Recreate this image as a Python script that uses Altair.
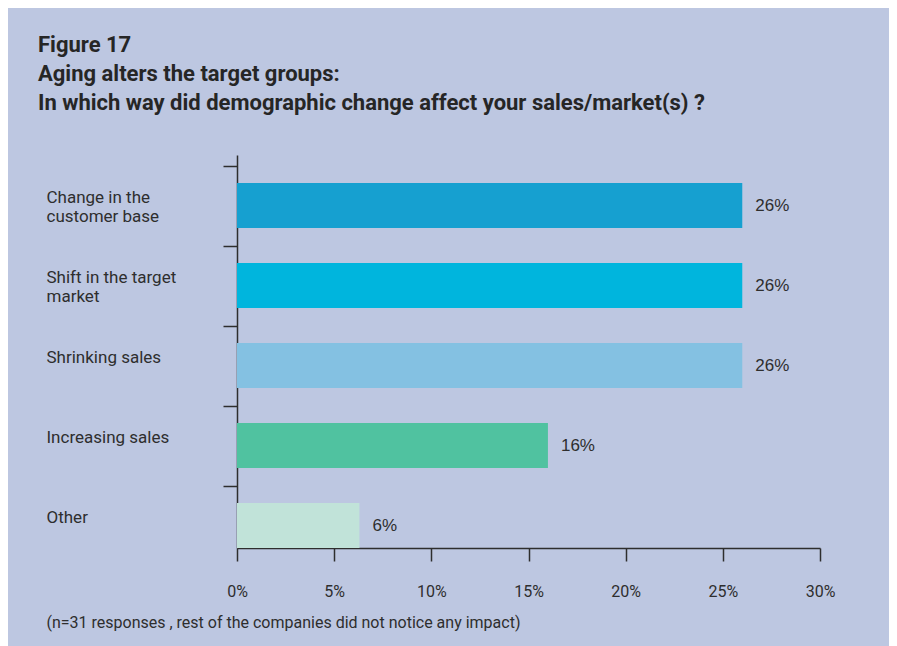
import altair as alt
import pandas as pd

# ---- data ----
categories = [
    "Change in the|customer base",
    "Shift in the target|market",
    "Shrinking sales|",
    "Increasing sales|",
    "Other|",
]
values = [26, 26, 26, 16, 6.3]
value_labels = ["26%", "26%", "26%", "16%", "6%"]
bar_colors = ["#16a0d0", "#00b5dd", "#84c1e2", "#50c2a0", "#c1e3d9"]
x_ticks = [0, 5, 10, 15, 20, 25, 30]

title_lines = [
    "Figure 17",
    "Aging alters the target groups:",
    "In which way did demographic change affect your sales/market(s) ?",
]
footnote = "(n=31 responses , rest of the companies did not notice any impact)"

df = pd.DataFrame({"category": categories, "value": values, "label": value_labels})

BG = "#bdc7e1"
INK = "#2e2e2e"
FONT = "Roboto"

y_enc = alt.Y(
    "category:N",
    sort=categories,
    scale=alt.Scale(paddingInner=0.4375, paddingOuter=0.175, align=1),
    axis=alt.Axis(
        title=None,
        domainColor=INK,
        domainWidth=1.5,
        tickColor=INK,
        tickWidth=1.5,
        tickSize=14,
        tickOffset=-40,
        labelOffset=32,
        labelAlign="left",
        labelBaseline="middle",
        labelPadding=177,
        labelLimit=300,
        labelFont=FONT,
        labelFontSize=17,
        labelColor=INK,
        labelLineHeight=19,
        labelExpr="split(datum.label, '|')",
    ),
)

x_enc = alt.X(
    "value:Q",
    scale=alt.Scale(domain=[0, 30], nice=False),
    axis=alt.Axis(
        values=x_ticks,
        labelExpr="datum.value + '%'",
        domainColor=INK,
        domainWidth=1.5,
        tickColor=INK,
        tickWidth=1.5,
        tickSize=13,
        grid=False,
        labelFont=FONT,
        labelFontSize=16,
        labelColor=INK,
        labelPadding=22,
        labelFlush=False,
        title=footnote,
        titleFont=FONT,
        titleFontSize=16,
        titleFontWeight="normal",
        titleColor=INK,
        titleAnchor="start",
        titleAlign="left",
        titleBaseline="middle",
        titleX=-191,
        titleY=74,
    ),
)

bars = alt.Chart(df).mark_bar().encode(
    y=y_enc,
    x=x_enc,
    color=alt.Color(
        "category:N",
        scale=alt.Scale(domain=categories, range=bar_colors),
        legend=None,
    ),
)

texts = alt.Chart(df).mark_text(
    align="left", baseline="middle", dx=13, font="Liberation Sans", fontSize=17, color=INK
).encode(
    y=alt.Y("category:N", sort=categories),
    x="value:Q",
    text="label:N",
)

chart = (
    alt.layer(bars, texts)
    .properties(
        width=583,
        height=393,
        autosize=alt.AutoSizeParams(type="none"),
        padding={"left": 229, "top": 147, "right": 69, "bottom": 98},
        background=BG,
        title=alt.TitleParams(
            text=title_lines,
            anchor="start",
            frame="group",
            dx=-199,
            offset=40,
            font=FONT,
            fontSize=22,
            fontWeight="bold",
            color="#262626",
            lineHeight=29,
        ),
    )
    .configure_view(stroke=None)
)

chart.save("out.html", embed_options={"renderer": "svg", "actions": False})
